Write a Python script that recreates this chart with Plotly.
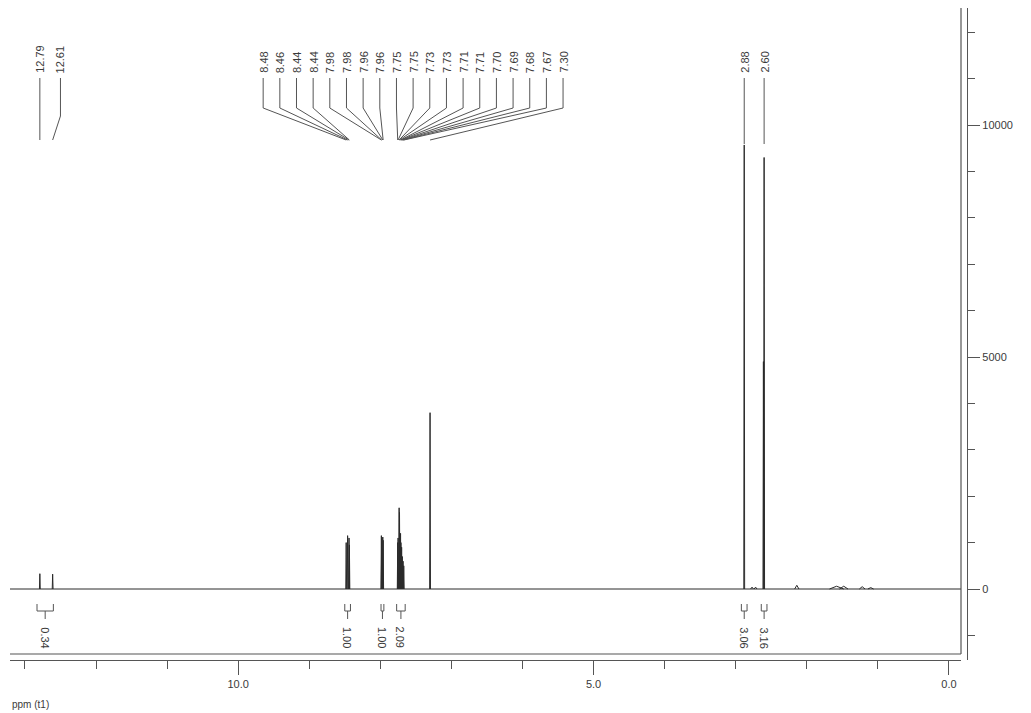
import plotly.graph_objects as go

# ---------------- data ----------------
peak_labels = ["12.79", "12.61",
               "8.48", "8.46", "8.44", "8.44", "7.98", "7.98", "7.96", "7.96",
               "7.75", "7.75", "7.73", "7.73", "7.71", "7.71", "7.70", "7.69", "7.68", "7.67",
               "7.30", "2.88", "2.60"]
peak_ppm = [12.79, 12.61,
            8.48, 8.46, 8.44, 8.435, 7.985, 7.98, 7.965, 7.96,
            7.755, 7.75, 7.735, 7.73, 7.715, 7.71, 7.70, 7.69, 7.68, 7.67,
            7.30, 2.88, 2.60]
peak_height = [330, 320,
               1000, 1150, 1100, 950, 1150, 1100, 1120, 1050,
               1000, 1100, 1750, 1650, 1200, 1000, 900, 700, 600, 500,
               3800, 9570, 9300]

# small unlabeled features (impurities / shoulders)
minor_ppm = [2.61, 2.77, 2.72, 2.14, 1.58, 1.48, 1.22, 1.10]
minor_height = [4900, 40, 40, 80, 60, 60, 50, 30]
minor_halfwidth = [0.006, 0.02, 0.02, 0.03, 0.10, 0.06, 0.04, 0.04]

integral_values = ["0.34", "1.00", "1.00", "2.09", "3.06", "3.16"]
integral_from = [12.83, 8.50, 7.99, 7.77, 2.92, 2.64]
integral_to = [12.60, 8.42, 7.95, 7.65, 2.84, 2.56]

# ---------------- geometry / style ----------------
OFF = 8                      # page body margin
SCALE = 0.0464               # px per intensity unit
ZERO_PAGE_Y = 589            # page row of intensity 0
X_LEFT, X_RIGHT = 13.21, -0.17


def yv(page_y):
    """page row -> intensity value"""
    return (ZERO_PAGE_Y - page_y) / SCALE


Y_TOP = yv(OFF)
Y_BOTTOM = yv(660)

LINE = "#2a2a2a"
GREY = "#555555"
TXT = "#3a3a3a"
FONT = "Liberation Sans, Arial, sans-serif"

fig = go.Figure()

# spectrum baseline
fig.add_trace(go.Scatter(x=[X_LEFT, X_RIGHT], y=[0, 0], mode="lines",
                         line=dict(color=LINE, width=1), hoverinfo="skip", showlegend=False))

# peaks as narrow lines
xs, ys = [], []
hw = 0.006
for p, h in zip(peak_ppm, peak_height):
    xs += [p + hw, p, p - hw, None]
    ys += [0, h, 0, None]
for p, h, w in zip(minor_ppm, minor_height, minor_halfwidth):
    xs += [p + w, p, p - w, None]
    ys += [0, h, 0, None]
fig.add_trace(go.Scatter(x=xs, y=ys, mode="lines", line=dict(color=LINE, width=1),
                         hoverinfo="skip", showlegend=False))

# ---------------- peak label positions & leader lines ----------------
label_x = [None] * len(peak_labels)
label_x[0] = peak_ppm[0]
label_x[1] = 12.50
first, step = 9.648, -0.2344
for k, i in enumerate(range(2, 21)):
    label_x[i] = first + k * step
label_x[21] = peak_ppm[21]
label_x[22] = peak_ppm[22]

y_top_line = yv(78)
y_bend_B = yv(108)
y_bend_A = yv(116)
y_end = yv(140)

lx, ly = [], []
for i, (lab, px_, pk) in enumerate(zip(peak_labels, label_x, peak_ppm)):
    bend = y_bend_A if i < 2 else y_bend_B
    if i in (0, 21, 22):
        end = y_end if i == 0 else yv(144)
        lx += [px_, px_, None]
        ly += [y_top_line, end, None]
    else:
        lx += [px_, px_, pk, None]
        ly += [y_top_line, bend, y_end, None]
    fig.add_annotation(x=px_, y=yv(75), text=lab, textangle=-90, showarrow=False,
                       xanchor="center", yanchor="bottom",
                       font=dict(family=FONT, size=11, color=TXT))
fig.add_trace(go.Scatter(x=lx, y=ly, mode="lines", line=dict(color=GREY, width=1),
                         hoverinfo="skip", showlegend=False))

# ---------------- integrals ----------------
ix, iy = [], []
ya, yb, yc = yv(604), yv(611), yv(619)
for val, a, b in zip(integral_values, integral_from, integral_to):
    c = (a + b) / 2
    ix += [a, a, b, b, None, c, c, None]
    iy += [ya, yb, yb, ya, None, yb, yc, None]
    fig.add_annotation(x=c, y=yv(625), text=val, textangle=90, showarrow=False,
                       xanchor="center", yanchor="top",
                       font=dict(family=FONT, size=11, color=TXT))
fig.add_trace(go.Scatter(x=ix, y=iy, mode="lines", line=dict(color=GREY, width=1),
                         hoverinfo="skip", showlegend=False))

# integral box: bottom line and right edge
fig.add_shape(type="line", xref="x domain", yref="y", x0=0, x1=1, y0=yv(654), y1=yv(654),
              line=dict(color=GREY, width=1.2))
fig.add_shape(type="line", xref="x domain", yref="y", x0=1, x1=1, y0=yv(654), y1=Y_TOP,
              line=dict(color=GREY, width=1.2))

W, H = 1031 - OFF, 713 - OFF
ML, MR = 10 - OFF, 30
MB = H - (660 - OFF)
pw = W - ML - MR

fig.add_annotation(x=0, y=0, xref="paper", yref="paper", yshift=-(697 - 660),
                   text="ppm (t1)", showarrow=False, xanchor="left", yanchor="top",
                   font=dict(family=FONT, size=10, color=TXT))

fig.update_layout(
    width=W, height=H,
    margin=dict(l=ML, r=MR, t=0, b=MB),
    paper_bgcolor="white", plot_bgcolor="white",
    showlegend=False,
    xaxis=dict(range=[X_LEFT, X_RIGHT], domain=[0, (961 - 10) / pw],
               showgrid=False, zeroline=False, showline=True, linecolor=GREY, linewidth=1.2,
               ticks="outside", ticklen=14, tickwidth=1, tickcolor=GREY,
               tick0=0, dtick=5, tickformat=".1f",
               minor=dict(ticks="outside", ticklen=8, dtick=1, tick0=0, tickcolor=GREY, showgrid=False),
               tickfont=dict(family=FONT, size=11, color=TXT), automargin=False),
    yaxis=dict(range=[Y_BOTTOM, Y_TOP], anchor="free", position=(967 - 10) / pw, side="right",
               showgrid=False, zeroline=False, showline=True, linecolor=GREY, linewidth=1.2,
               ticks="outside", ticklen=12, tickwidth=1, tickcolor=GREY,
               tickvals=[0, 5000, 10000], ticktext=["0", "5000", "10000"],
               minor=dict(ticks="outside", ticklen=7, dtick=1000, tick0=0, tickcolor=GREY, showgrid=False),
               tickfont=dict(family=FONT, size=11, color=TXT), automargin=False),
)

fig.write_html("out.html")
